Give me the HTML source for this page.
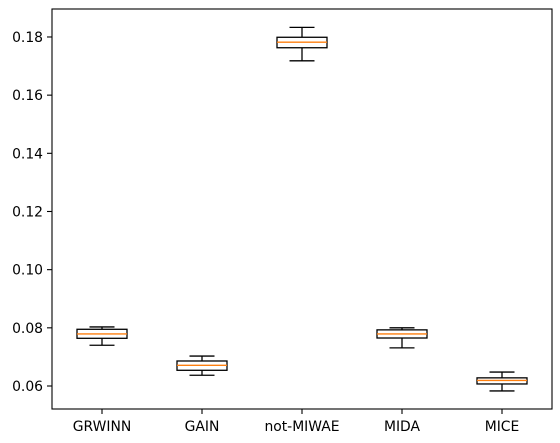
<!DOCTYPE html>
<html><head><meta charset="utf-8"><style>
body{margin:0;background:#fff;}
svg{display:block;font-family:"DejaVu Sans","Liberation Sans",sans-serif;}
</style></head><body>
<svg id="chart" width="560" height="443" viewBox="0 0 560 443">
<rect x="0" y="0" width="560" height="443" fill="#fff"/>
<g id="marks"></g>
<g id="axes"></g>
</svg>
<script>
const categories = ["GRWINN","GAIN","not-MIWAE","MIDA","MICE"];
const whiskerLow = [0.0740,0.0637,0.1718,0.0731,0.0583];
const q1 = [0.0764,0.0654,0.1763,0.0765,0.0607];
const medians = [0.0779,0.0671,0.1782,0.0779,0.0619];
const q3 = [0.0795,0.0686,0.1799,0.0793,0.0628];
const whiskerHigh = [0.0803,0.0703,0.1833,0.0800,0.0648];
const yTicks = [0.06,0.08,0.10,0.12,0.14,0.16,0.18];

const L=52,R=552,T=9,B=409;
const y0=0.06, y0px=386, pxPer=2908.5;
function y(v){return y0px-(v-y0)*pxPer;}
function x(i){return L+(i+0.5)*(R-L)/categories.length;}
const NS="http://www.w3.org/2000/svg";
function mk(tag,attrs,parent){const e=document.createElementNS(NS,tag);for(const k in attrs)e.setAttribute(k,attrs[k]);parent.appendChild(e);return e;}
const marks=document.getElementById('marks'), axes=document.getElementById('axes');
const bw=50, cw=25;
categories.forEach((c,i)=>{
  const g=mk('g',{},marks);
  
  
  const cx=x(i);
  const st={stroke:'#000','stroke-width':1.3,fill:'none'};
  mk('line',Object.assign({x1:cx,x2:cx,y1:y(whiskerLow[i]),y2:y(q1[i])},st),g);
  mk('line',Object.assign({x1:cx,x2:cx,y1:y(q3[i]),y2:y(whiskerHigh[i])},st),g);
  mk('line',Object.assign({x1:cx-cw/2,x2:cx+cw/2,y1:y(whiskerLow[i]),y2:y(whiskerLow[i])},st),g);
  mk('line',Object.assign({x1:cx-cw/2,x2:cx+cw/2,y1:y(whiskerHigh[i]),y2:y(whiskerHigh[i])},st),g);
  mk('rect',Object.assign({x:cx-bw/2,y:y(q3[i]),width:bw,height:y(q1[i])-y(q3[i])},st),g);
  mk('line',{x1:cx-bw/2,x2:cx+bw/2,y1:y(medians[i]),y2:y(medians[i]),stroke:'#ff7f0e','stroke-width':1.4},g);
  mk('line',{x1:cx,x2:cx,y1:B,y2:B+5,stroke:'#000','stroke-width':1.1},axes);
  const t=mk('text',{x:cx,y:B+22,'text-anchor':'middle','font-size':13.9,fill:'#000'},axes);
  t.textContent=c;
  
  
});
yTicks.forEach(v=>{
  const yy=y(v);
  mk('line',{x1:L-5,x2:L,y1:yy,y2:yy,stroke:'#000','stroke-width':1.1},axes);
  const t=mk('text',{x:L-9,y:yy+5,'text-anchor':'end','font-size':13.9,fill:'#000'},axes);
  t.textContent=v.toFixed(2);
  
  
});
const frame=mk('rect',{x:L,y:T,width:R-L,height:B-T,fill:'none',stroke:'#000','stroke-width':1.1},axes);


</script>
</body></html>
